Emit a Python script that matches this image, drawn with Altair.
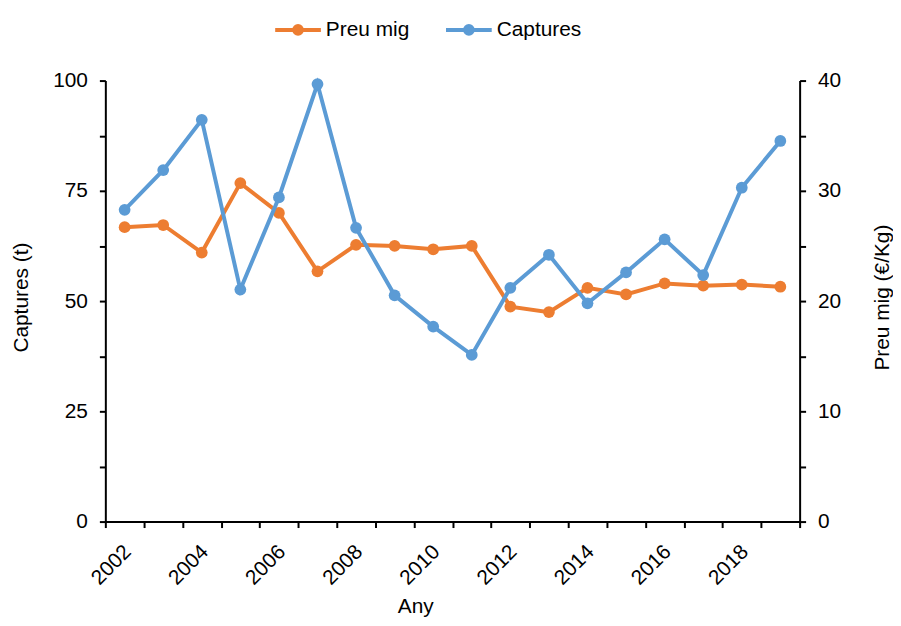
import altair as alt
import pandas as pd

years = [str(y) for y in range(2002, 2020)]
captures = [70.7, 79.7, 91.1, 52.6, 73.5, 99.2, 66.6, 51.3, 44.2, 37.8,
            53.0, 60.5, 49.5, 56.5, 64.0, 55.9, 75.7, 86.3]
preu = [26.7, 26.9, 24.4, 30.7, 28.0, 22.7, 25.1, 25.0, 24.7, 25.0,
        19.5, 19.0, 21.2, 20.6, 21.6, 21.4, 21.5, 21.3]
series = ["Preu mig", "Captures"]
colors = ["#ED7D31", "#5B9BD5"]

df = pd.DataFrame({"Any": years, "Captures": captures, "Preu": preu})

FONT = "Liberation Sans"
FS = 21

legend_symbol = ("M-1,0L1,0"
                 "M0.07,0A0.07,0.07,0,1,1,-0.07,0A0.07,0.07,0,1,1,0.07,0"
                 "M0.17,0A0.17,0.17,0,1,1,-0.17,0A0.17,0.17,0,1,1,0.17,0")

color_scale = alt.Scale(domain=series, range=colors)

x_enc = alt.X(
    "Any:O",
    sort=years,
    scale=alt.Scale(paddingInner=0, paddingOuter=0),
    axis=alt.Axis(
        title="Any",
        tickBand="extent",
        labelExpr="toNumber(datum.value) % 2 == 0 ? datum.label : ''",
        labelAngle=-45,
        labelAlign="right",
        labelBaseline="middle",
        labelPadding=21,
        labelOffset=3,
        titleX=312,
        titleY=75,
        titleBaseline="top",
        titleAlign="center",
    ),
)

legend = alt.Legend(
    title=None,
    orient="none",
    legendX=169,
    legendY=-76,
    direction="horizontal",
    symbolType=legend_symbol,
    symbolSize=2116,
    symbolStrokeWidth=4,
    labelFontSize=FS,
    labelFont=FONT,
    labelColor="black",
    labelOffset=3,
    columnPadding=28,
)

color_enc = alt.Color("Serie:N", scale=color_scale, legend=legend)

preu_layer = alt.Chart(df).transform_calculate(
    Serie="'Preu mig'"
).mark_line(
    strokeWidth=4,
    point=alt.OverlayMarkDef(filled=True, size=140, opacity=1),
).encode(
    x=x_enc,
    y=alt.Y(
        "Preu:Q",
        scale=alt.Scale(domain=[0, 40], nice=False),
        axis=alt.Axis(
            orient="right",
            title="Preu mig (€/Kg)",
            values=list(range(0, 45, 5)),
            labelExpr="datum.value % 10 == 0 ? datum.label : ''",
            titleAngle=-90,
            titleX=83,
            titleY=218,
            titleBaseline="middle",
            titleAlign="center",
            labelPadding=12,
        ),
    ),
    color=color_enc,
)

capt_layer = alt.Chart(df).transform_calculate(
    Serie="'Captures'"
).mark_line(
    strokeWidth=4,
    point=alt.OverlayMarkDef(filled=True, size=140, opacity=1),
).encode(
    x=x_enc,
    y=alt.Y(
        "Captures:Q",
        scale=alt.Scale(domain=[0, 100], nice=False),
        axis=alt.Axis(
            orient="left",
            title="Captures (t)",
            values=[0, 12.5, 25, 37.5, 50, 62.5, 75, 87.5, 100],
            labelExpr="datum.value % 25 == 0 ? format(datum.value, 'd') : ''",
            titleAngle=-90,
            titleX=-84,
            titleY=218,
            titleBaseline="middle",
            titleAlign="center",
            labelPadding=12,
        ),
    ),
    color=color_enc,
)

chart = alt.layer(preu_layer, capt_layer).resolve_scale(
    y="independent"
).properties(
    width=699,
    height=444,
    autosize=alt.AutoSizeParams(type="none"),
    padding={"left": 98, "top": 71, "right": 94, "bottom": 95},
).configure_view(
    stroke=None,
).configure_axis(
    domainColor="black",
    domainWidth=2,
    tickColor="black",
    tickWidth=2,
    tickSize=6,
    grid=False,
    labelFont=FONT,
    labelFontSize=FS,
    labelColor="black",
    titleFont=FONT,
    titleFontSize=FS,
    titleFontWeight="normal",
    titleColor="black",
).configure_legend(
    labelFont=FONT,
)

chart.save("out.html", embed_options={"renderer": "svg", "actions": False})
